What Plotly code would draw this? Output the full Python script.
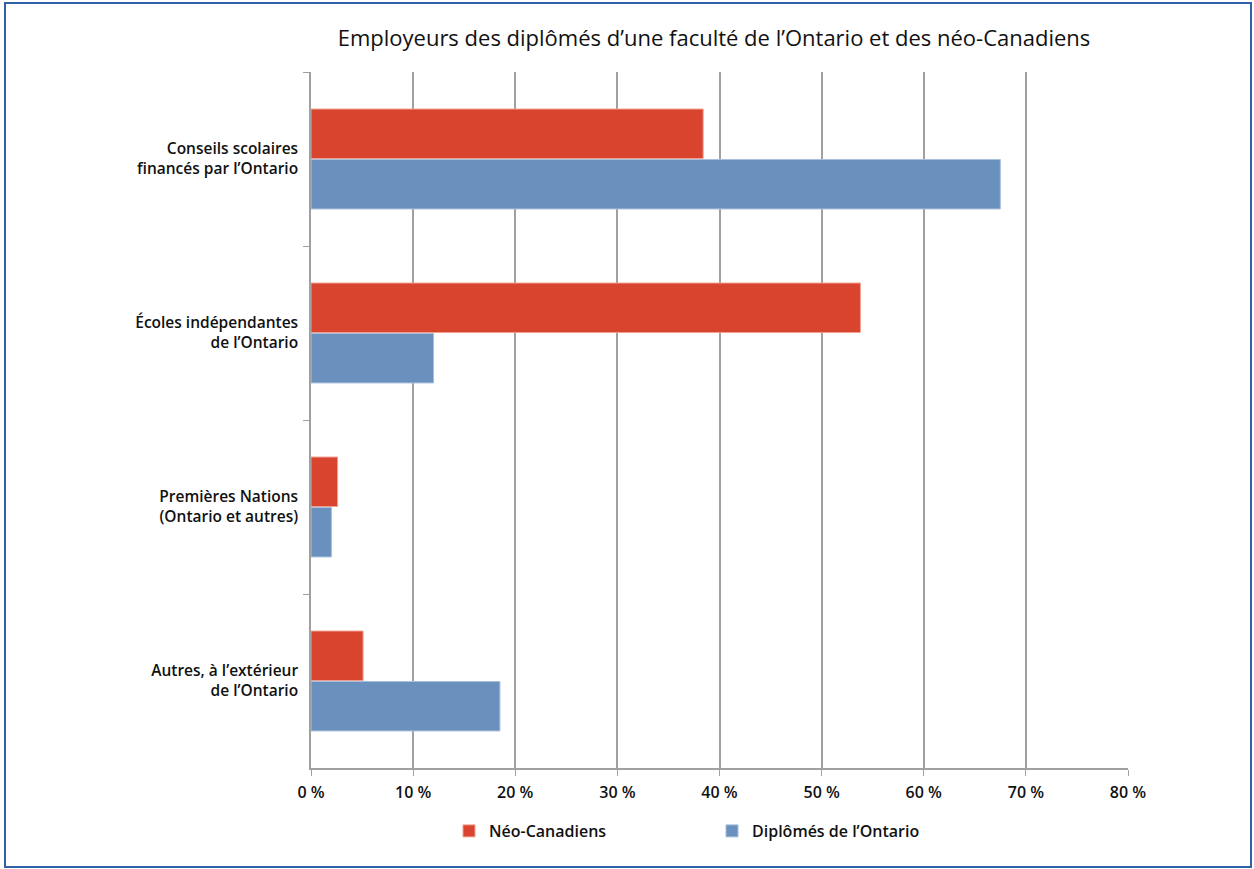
import plotly.graph_objects as go

categories = ["Conseils scolaires<br>financés par l’Ontario",
              "Écoles indépendantes<br>de l’Ontario",
              "Premières Nations<br>(Ontario et autres)",
              "Autres, à l’extérieur<br>de l’Ontario"]
neo_canadiens = [38.4, 53.8, 2.6, 5.1]
diplomes_ontario = [67.5, 12.0, 2.0, 18.5]
x_ticks = [0, 10, 20, 30, 40, 50, 60, 70, 80]
x_tick_labels = [f"{v} %" for v in x_ticks]

W, H = 1254, 869
L, R, T, B = 311, 1128, 72, 768
FONT = "Open Sans"
TXT = "#111111"

fig = go.Figure()
fig.add_trace(go.Bar(y=categories, x=neo_canadiens, orientation="h",
                     name="Néo-Canadiens", marker=dict(color="#d9442e", line=dict(color="#f0a090", width=1))))
fig.add_trace(go.Bar(y=categories, x=diplomes_ontario, orientation="h",
                     name="Diplômés de l’Ontario", marker=dict(color="#6a91bd", line=dict(color="#a9c0dc", width=1))))

def px_x(p):
    return (p - L) / (R - L)

def px_y(p):
    return (B - p) / (B - T)

fig.add_shape(type="rect", xref="paper", yref="paper",
              x0=px_x(5), x1=px_x(1251), y0=px_y(867), y1=px_y(3),
              line=dict(color="#2f62a6", width=2), fillcolor="rgba(0,0,0,0)", layer="below")

fig.update_layout(
    width=W, height=H,
    margin=dict(l=L, r=W - R, t=T, b=H - B),
    paper_bgcolor="white", plot_bgcolor="white",
    barmode="group", bargap=0.42, bargroupgap=0.02,
    font=dict(family=FONT, color=TXT),
    title=dict(text="Employeurs des diplômés d’une faculté de l’Ontario et des néo-Canadiens",
               x=714 / W, xanchor="center", xref="container",
               y=1 - 38 / H, yanchor="middle", yref="container",
               font=dict(size=22, family=FONT, color=TXT, weight=500)),
    xaxis=dict(range=[0, 80], tickvals=x_ticks, ticktext=x_tick_labels,
               showgrid=True, gridcolor="#a0a0a0", gridwidth=1.5,
               showline=True, linecolor="#a0a0a0", linewidth=1.5,
               ticks="outside", ticklen=6, tickcolor="#a0a0a0",
               ticklabelstandoff=3,
               tickfont=dict(size=16, family=FONT, color=TXT, weight=600),
               zeroline=False, fixedrange=True),
    yaxis=dict(autorange="reversed", showline=True, linecolor="#a0a0a0", linewidth=1.5,
               ticks="outside", tickson="boundaries", ticklen=6, tickcolor="#a0a0a0",
               ticklabelstandoff=8,
               tickfont=dict(size=15.5, family=FONT, color=TXT, weight=600),
               showgrid=False, fixedrange=True),
    legend=dict(orientation="h", x=px_x(712), xanchor="center",
                y=px_y(831), yanchor="middle",
                font=dict(size=16, family=FONT, color=TXT, weight=600),
                entrywidth=218, entrywidthmode="pixels", traceorder="normal"),
)

fig.write_html("out.html", config={"displayModeBar": False},
               post_script="document.body.style.margin='0';")
